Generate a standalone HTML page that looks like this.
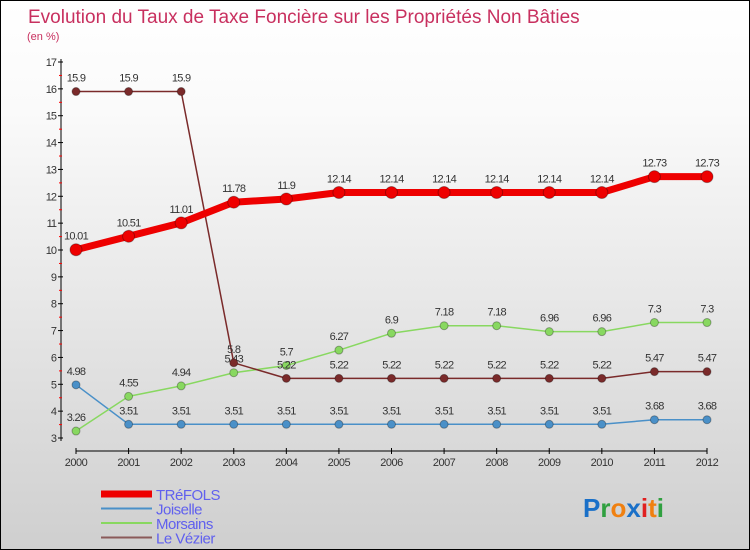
<!DOCTYPE html>
<html><head><meta charset="utf-8">
<style>
body{margin:0}
#c{position:relative;width:748px;height:548px;border:1px solid #000;background:linear-gradient(#ffffff,#fafafa 20%,#cfcfcf);overflow:hidden;font-family:"Liberation Sans","DejaVu Sans",sans-serif}
</style></head><body>
<div id="c">
<svg id="s" width="748" height="548"></svg>
</div>
<script>
const years=[2000,2001,2002,2003,2004,2005,2006,2007,2008,2009,2010,2011,2012];
const trefols=[10.01,10.51,11.01,11.78,11.9,12.14,12.14,12.14,12.14,12.14,12.14,12.73,12.73];
const joiselle=[4.98,3.51,3.51,3.51,3.51,3.51,3.51,3.51,3.51,3.51,3.51,3.68,3.68];
const morsains=[3.26,4.55,4.94,5.43,5.7,6.27,6.9,7.18,7.18,6.96,6.96,7.3,7.3];
const vezier=[15.9,15.9,15.9,5.8,5.22,5.22,5.22,5.22,5.22,5.22,5.22,5.47,5.47];
const yTicks=[3,4,5,6,7,8,9,10,11,12,13,14,15,16,17];
const NS="http://www.w3.org/2000/svg";
const s=document.getElementById('s');
function xs(i){return 75+i*(706-75)/(years.length-1);}
function ys(v){return 437-(v-3)*(437-61)/14;}
function el(t,a,p){const e=document.createElementNS(NS,t);for(const k in a)e.setAttribute(k,a[k]);(p||s).appendChild(e);return e;}
let e;
e=el('text',{x:27,y:22,fill:'#c8305f','font-size':19});e.textContent='Evolution du Taux de Taxe Foncière sur les Propriétés Non Bâties';


e=el('text',{x:26,y:39,fill:'#c8305f','font-size':11});e.textContent='(en %)';


// axes
e=el('line',{x1:60,y1:58,x2:60,y2:440,stroke:'#000','stroke-width':1});


e=el('line',{x1:75,y1:450,x2:706,y2:450,stroke:'#000','stroke-width':1});


yTicks.forEach((v,i)=>{
 const y=ys(v);
 el('line',{x1:57,y1:y,x2:62,y2:y,stroke:'#000'});
 if(i<yTicks.length-1) el('line',{x1:58,y1:y-13.4,x2:61,y2:y-13.4,stroke:'#f00'});
 e=el('text',{x:55,y:y+4,'text-anchor':'end','font-size':11,fill:'#333','letter-spacing':'-1'});e.textContent=v;
 
 
});
years.forEach((yr,i)=>{
 const x=xs(i);
 el('line',{x1:x,y1:447,x2:x,y2:453,stroke:'#000'});
 e=el('text',{x:x,y:465,'text-anchor':'middle','font-size':11,fill:'#333','letter-spacing':'-0.5'});e.textContent=yr;
 
 
});
function series(data,color,w,r,name){
 const g=el('g',{});
 
 
 el('polyline',{points:data.map((v,i)=>xs(i)+','+ys(v)).join(' '),fill:'none',stroke:color,'stroke-width':w,'stroke-linejoin':'round'},g);
 data.forEach((v,i)=>{
  const c=el('circle',{cx:xs(i),cy:ys(v),r:r,fill:color,stroke:'rgba(0,0,0,0.3)','stroke-width':1},g);
  
  
  const t=el('text',{x:xs(i),y:ys(v)-10,'text-anchor':'middle','font-size':11,fill:'#333','letter-spacing':'-0.7'},g);
  t.textContent=v;
  
  
 });
}
series(joiselle,'#4a90c8',1.5,4,'joiselle');
series(morsains,'#88d860',1.5,4,'morsains');
series(vezier,'#7a2a2a',1.5,4,'le-vezier');
series(trefols,'#ee0000',7,6,'trefols');
// legend
const leg=[['TRéFOLS','#ee0000',7],['Joiselle','#4a90c8',2],['Morsains','#88d860',2],['Le Vézier','#8a5a5a',2]];
leg.forEach((l,i)=>{
 const y=493+i*14.5;
 const g=el('g',{});
 
 
 el('line',{x1:100,y1:y,x2:151,y2:y,stroke:l[1],'stroke-width':l[2]},g);
 const t=el('text',{x:155,y:y+6,'font-size':15,fill:'#6060ee','letter-spacing':'-0.5'},g);t.textContent=l[0];
});
// logo
const lg=el('text',{x:582,y:516,'font-size':26,'font-weight':'bold'});


[['P','#1a70c8'],['r','#30a040'],['o','#f08010'],['x','#1a70c8'],['i','#e02020'],['t','#f08010'],['i','#30a040']].forEach(p=>{const ts=el('tspan',{fill:p[1]},lg);ts.textContent=p[0];});
</script>
</body></html>
